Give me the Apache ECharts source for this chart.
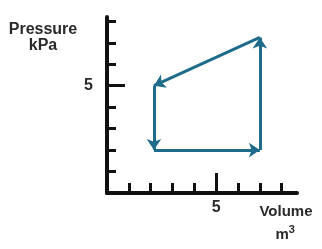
<!DOCTYPE html>
<html>
<head>
<meta charset="utf-8">
<script src="https://cdn.jsdelivr.net/npm/echarts@6/dist/echarts.min.js"></script>
<style>
html,body{margin:0;padding:0;background:#fff;}
#chart{width:322px;height:249px;}
</style>
</head>
<body>
<div id="chart"></div>
<script>
// Cycle points A -> B -> C -> D -> A (volume in m3, pressure in kPa)
const volumes = [2.15, 7, 7, 2.15];
const pressures = [2, 2, 7.25, 5];
// Tick values
const minorTicks = [1, 2, 3, 4, 6, 7, 8];
const majorTicks = [5];
const tickLabels = [5];

const segs = [];
for (let i = 0; i < volumes.length; i++) {
  const j = (i + 1) % volumes.length;
  segs.push({ coords: [[volumes[i], pressures[i]], [volumes[j], pressures[j]]] });
}

const font = 'Liberation Sans, Arial, sans-serif';
const ink = '#111';
const txt = '#2a2a2a';

const chart = echarts.init(document.getElementById('chart'), null, { renderer: 'canvas' });
chart.setOption({
  animation: false,
  backgroundColor: '#fff',
  grid: { left: 107, top: 17, right: 25, bottom: 56, containLabel: false },
  xAxis: [
    {
      type: 'value', min: 0, max: 8.7, position: 'bottom',
      axisLine: { show: true, lineStyle: { color: ink, width: 4 } },
      axisTick: { show: true, inside: true, length: 10, customValues: minorTicks, lineStyle: { color: ink, width: 3 } },
      axisLabel: { show: false },
      splitLine: { show: false },
      name: '{a|Volume}\n{a|m}{s|3}{p| }',
      nameLocation: 'end',
      nameGap: -11,
      nameTextStyle: {
        align: 'center', verticalAlign: 'top', padding: [7, 0, 0, 0], lineHeight: 23,
        rich: {
          a: { fontFamily: font, fontWeight: 'bold', fontSize: 15, color: txt, lineHeight: 23 },
          s: { fontFamily: font, fontWeight: 'bold', fontSize: 11, color: txt, padding: [0, 0, 9, 0], lineHeight: 23 },
          p: { fontFamily: font, fontSize: 6, lineHeight: 23 }
        }
      }
    },
    {
      type: 'value', min: 0, max: 8.7, position: 'bottom',
      axisLine: { show: false },
      axisTick: { show: true, inside: true, length: 20, customValues: majorTicks, lineStyle: { color: ink, width: 3 } },
      axisLabel: { show: true, customValues: tickLabels, margin: 7, fontFamily: font, fontWeight: 'bold', fontSize: 16, color: txt },
      splitLine: { show: false }
    }
  ],
  yAxis: [
    {
      type: 'value', min: 0, max: 8.2, position: 'left',
      axisLine: { show: true, lineStyle: { color: ink, width: 4 } },
      axisTick: { show: true, inside: true, length: 9, customValues: minorTicks, lineStyle: { color: ink, width: 3 } },
      axisLabel: { show: false },
      splitLine: { show: false },
      name: 'Pressure\nkPa',
      nameLocation: 'end',
      nameGap: 0,
      nameTextStyle: {
        align: 'center', verticalAlign: 'top', padding: [5, 128, 0, 0], lineHeight: 16,
        fontFamily: font, fontWeight: 'bold', fontSize: 16, color: txt
      }
    },
    {
      type: 'value', min: 0, max: 8.2, position: 'left',
      axisLine: { show: false },
      axisTick: { show: true, inside: true, length: 18, customValues: majorTicks, lineStyle: { color: ink, width: 3 } },
      axisLabel: { show: true, customValues: tickLabels, margin: 14, fontFamily: font, fontWeight: 'bold', fontSize: 16, color: txt },
      splitLine: { show: false }
    }
  ],
  series: [
    {
      type: 'lines',
      coordinateSystem: 'cartesian2d',
      xAxisIndex: 0, yAxisIndex: 0,
      symbol: ['none', 'arrow'],
      symbolSize: 11,
      lineStyle: { color: '#1f6b8b', width: 3, opacity: 1, curveness: 0 },
      data: segs
    }
  ]
});
</script>
</body>
</html>
